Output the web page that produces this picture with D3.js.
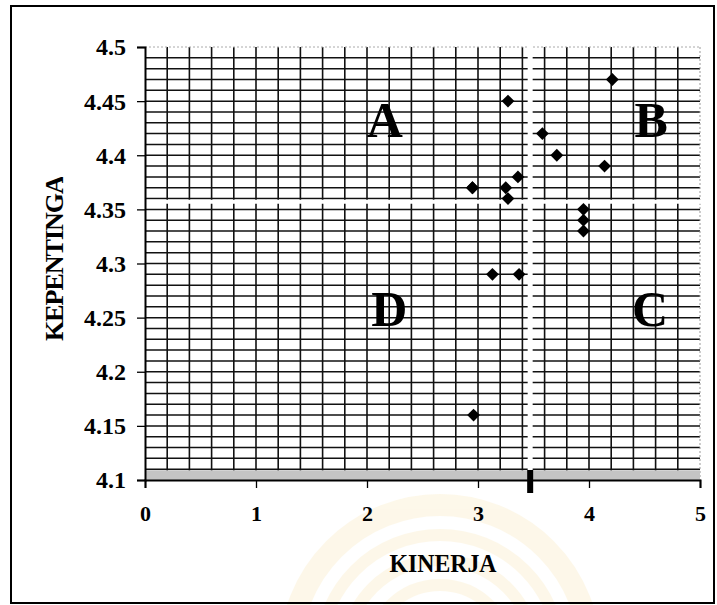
<!DOCTYPE html>
<html>
<head>
<meta charset="utf-8">
<script src="https://cdn.jsdelivr.net/npm/d3@7"></script>
<style>
  body { margin: 0; background: #fff; }
  text { font-family: "Liberation Serif", "Times New Roman", serif; font-weight: bold; }
</style>
</head>
<body>
<div id="chart"></div>
<script>
// values
let kinerja     = [2.95, 3.27, 3.58, 3.71, 4.14, 4.21, 3.36, 2.95, 3.25, 3.27, 3.95, 3.95, 3.95, 3.13, 3.37, 2.96];
let kepentingan = [4.37, 4.45, 4.42, 4.40, 4.39, 4.47, 4.38, 4.37, 4.37, 4.36, 4.35, 4.34, 4.33, 4.29, 4.29, 4.16];
let xTicks = [0, 1, 2, 3, 4, 5];
let yTicks = [4.1, 4.15, 4.2, 4.25, 4.3, 4.35, 4.4, 4.45, 4.5];
let quadrants = ["A", "B", "C", "D"];
let meanX = 3.47;
let meanY = 4.357;

let svg = d3.select("#chart")
              .append("svg")
                  .attr("width", 717)
                  .attr("height", 605)
;

let x = d3.scaleLinear().domain([0, 5]).range([145, 700]);
let y = d3.scaleLinear().domain([4.1, 4.5]).range([480, 47]);

// very faint watermark behind everything
let wm = svg.append("g").attr("opacity", 0.12);
[150, 120, 95, 70].forEach(function(r, i){
  wm.append("circle")
      .attr("cx", 440).attr("cy", 655).attr("r", r)
      .attr("fill", "none")
      .attr("stroke", "#f2c552")
      .attr("stroke-width", i == 0 ? 22 : 12);
});

// outer frame
svg.append("rect")
    .attr("x", 11).attr("y", 6)
    .attr("width", 703).attr("height", 597)
    .attr("fill", "none")
    .attr("stroke", "#000")
    .attr("stroke-width", 2);

// grid
let grid = svg.append("g");
let vLines = d3.range(1, 25).map(function(i){ return i * 0.2; });
let hLines = d3.range(1, 40).map(function(i){ return 4.1 + i * 0.01; });

grid.selectAll(".v").data(vLines).join("line")
    .attr("x1", d => x(d)).attr("x2", d => x(d))
    .attr("y1", y(4.5)).attr("y2", y(4.1))
    .attr("stroke", "#111").attr("stroke-width", 1.6);

grid.selectAll(".h").data(hLines).join("line")
    .attr("x1", x(0)).attr("x2", x(5))
    .attr("y1", d => y(d)).attr("y2", d => y(d))
    .attr("stroke", "#111").attr("stroke-width", 1.5);

// faint outer edges of plot area
grid.append("line")
    .attr("x1", x(0)).attr("x2", x(5)).attr("y1", y(4.5)).attr("y2", y(4.5))
    .attr("stroke", "#aaa").attr("stroke-dasharray", "2,2");
grid.append("line")
    .attr("x1", x(5)).attr("x2", x(5)).attr("y1", y(4.5)).attr("y2", y(4.1))
    .attr("stroke", "#999").attr("stroke-dasharray", "2,2");

// grey band along the bottom
grid.append("rect")
    .attr("x", x(0)).attr("y", y(4.109))
    .attr("width", x(5) - x(0)).attr("height", y(4.1) - y(4.109))
    .attr("fill", "#c4c4c4");

// quadrant gaps (white)
svg.append("line")
    .attr("x1", x(meanX)).attr("x2", x(meanX))
    .attr("y1", y(4.5) - 2).attr("y2", y(4.1))
    .attr("stroke", "#fff").attr("stroke-width", 5);
svg.append("line")
    .attr("x1", x(0) + 1).attr("x2", x(5) + 1)
    .attr("y1", y(meanY)).attr("y2", y(meanY))
    .attr("stroke", "#fff").attr("stroke-width", 4);

// axes
let xAxis = d3.axisBottom(x).tickValues(xTicks).tickSize(8).tickPadding(22).tickFormat(d3.format("d"));
let yAxis = d3.axisLeft(y).tickValues(yTicks).tickSize(8).tickPadding(11).tickFormat(d => d);

let gx = svg.append("g").attr("transform", "translate(0," + y(4.1) + ")").call(xAxis);
let gy = svg.append("g").attr("transform", "translate(" + x(0) + ",0)").call(yAxis);

[gx, gy].forEach(function(g){
  g.attr("font-family", null).attr("font-size", null);
  g.select(".domain").attr("stroke", "#000").attr("stroke-width", 2);
  g.selectAll(".tick line").attr("stroke", "#000").attr("stroke-width", 1.3);
  g.selectAll("text").attr("fill", "#000").style("font-size", "22px");
});
gx.selectAll("text").attr("dy", "0.5em");
gy.selectAll("text").style("font-size", "24px").attr("dy", "0.33em");

// marker for the mean kinerja on the axis
svg.append("rect")
    .attr("x", x(meanX) - 3).attr("y", y(4.1) - 10)
    .attr("width", 6).attr("height", 23)
    .attr("fill", "#000");

// points
let diamond = d3.symbol().type(d3.symbolSquare).size(82);
svg.selectAll(".pt").data(kinerja).join("path")
    .attr("d", diamond)
    .attr("transform", function(d, i){
      return "translate(" + x(d) + "," + y(kepentingan[i]) + ") rotate(45)";
    })
    .attr("fill", "#000");

// quadrant letters
let qx = [2.16, 4.56, 4.55, 2.2];
let qy = [4.417, 4.417, 4.242, 4.242];
svg.selectAll(".q").data(quadrants).join("text")
    .attr("x", (d, i) => x(qx[i]))
    .attr("y", (d, i) => y(qy[i]))
    .attr("text-anchor", "middle")
    .style("font-size", "50px")
    .attr("fill", "#000")
    .text(d => d);

// axis titles
svg.append("text")
    .attr("x", 443).attr("y", 572)
    .attr("text-anchor", "middle")
    .style("font-size", "26px")
    .attr("textLength", 107)
    .attr("lengthAdjust", "spacingAndGlyphs")
    .attr("fill", "#000")
    .text("KINERJA");

svg.append("clipPath").attr("id", "ycut")
    .append("rect").attr("x", 0).attr("y", 177).attr("width", 120).attr("height", 300);

svg.append("g").attr("clip-path", "url(#ycut)")
  .append("text")
    .attr("transform", "translate(63,341) rotate(-90)")
    .attr("text-anchor", "start")
    .style("font-size", "26px")
    .attr("letter-spacing", -1)
    .attr("fill", "#000")
    .text("KEPENTINGAN");
</script>
</body>
</html>
